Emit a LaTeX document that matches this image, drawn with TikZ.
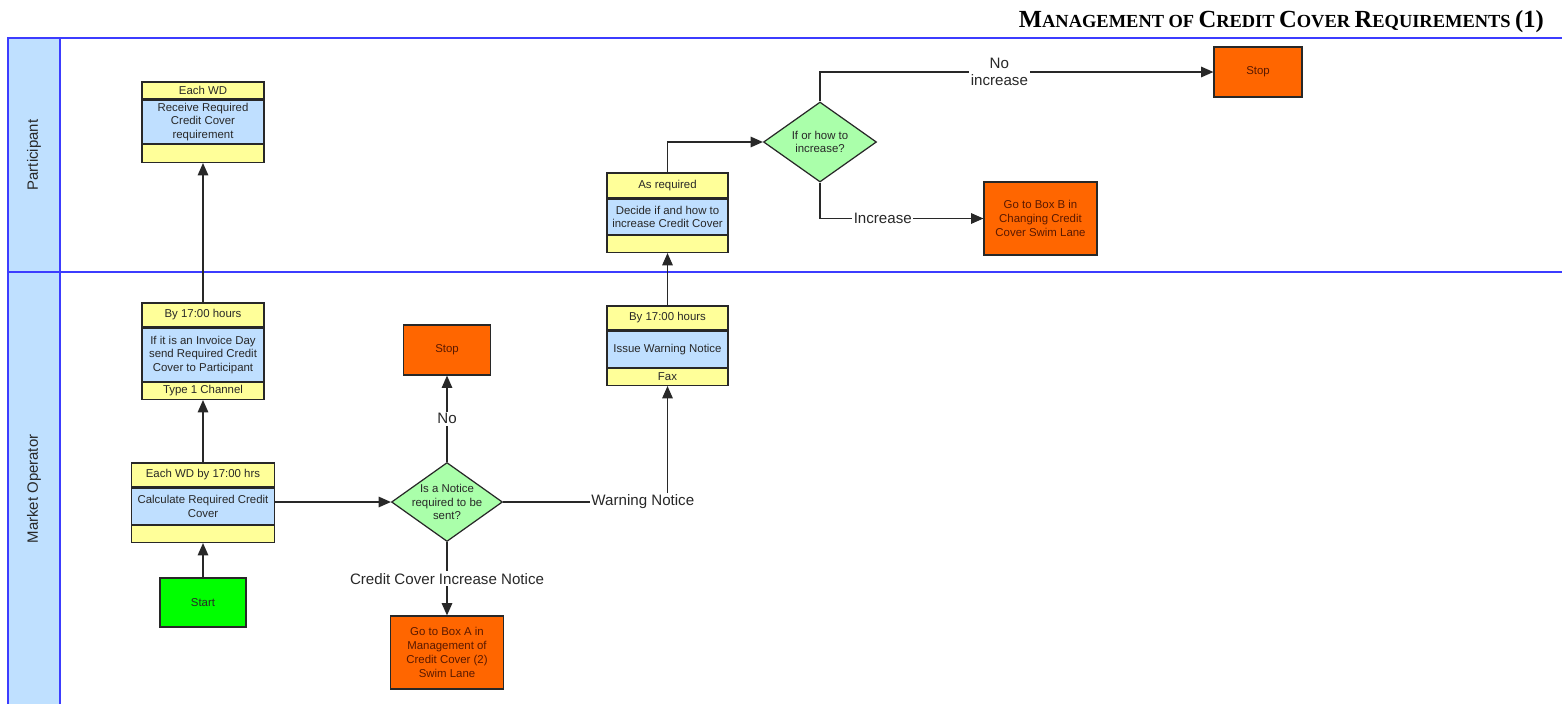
\documentclass[tikz,border=0pt]{standalone}
\usepackage{fontspec}
\setmainfont{Liberation Sans}
\newfontfamily\titlefont{Liberation Serif}
\usetikzlibrary{shapes.geometric, arrows.meta, positioning}
\definecolor{lanefill}{RGB}{191,224,255}
\definecolor{laneline}{RGB}{60,60,255}
\definecolor{headfill}{RGB}{255,255,153}
\definecolor{bodyfill}{RGB}{191,223,255}
\definecolor{termfill}{RGB}{255,102,0}
\definecolor{termtext}{RGB}{90,25,0}
\definecolor{startfill}{RGB}{0,255,0}
\definecolor{choicefill}{RGB}{170,255,170}
\definecolor{inkgray}{RGB}{40,40,40}
\def\boxfont{\fontsize{6.5}{7.7}\selectfont}
\def\labelfont{\fontsize{8.6}{9.8}\selectfont}
\newcommand{\scword}[2]{{\fontsize{14}{16}\selectfont #1}{\fontsize{10.5}{12}\selectfont #2}}
\tikzset{
    head/.style = {draw=inkgray, fill=headfill, line width=0.7pt, inner sep=0pt,
                   minimum width=#1, align=center, font=\boxfont, text=inkgray},
    head/.default = 2.44cm,
    body/.style = {head=#1, fill=bodyfill},
    body/.default = 2.44cm,
    term/.style = {draw=inkgray, fill=termfill, line width=0.7pt, inner sep=0pt,
                   align=center, font=\fontsize{6.5}{8}\selectfont, text=termtext},
    startbox/.style = {term, fill=startfill, text=inkgray},
    decision/.style = {diamond, draw=inkgray, fill=choicefill, line width=0.7pt,
                       inner sep=-0.2cm, align=center, font=\boxfont, text=inkgray},
    link/.style = {draw=inkgray, line width=0.7pt, -{Triangle[length=7pt,width=6pt]}},
    lbl/.style = {fill=white, inner sep=1pt, align=center, font=\labelfont, text=inkgray},
    lanename/.style = {rotate=90, font=\fontsize{8.5}{10}\selectfont, text=inkgray}
}

\begin{document}
\begin{tikzpicture}[x=0.02cm, y=-0.02cm]
    \useasboundingbox (0,0) rectangle (1562,704);
    % Titolo
    \node[anchor=base east, font=\titlefont\bfseries] (title) at (1550,27)
        {\scword{M}{ANAGEMENT} \scword{}{OF} \scword{C}{REDIT} \scword{C}{OVER} \scword{R}{EQUIREMENTS} \scword{(1)}{}};
    % Corsie
    \fill[white] (60,38) rectangle (1562,704);
    \fill[lanefill] (8,38) rectangle (60,704);
    \draw[laneline, line width=0.7pt] (1562,38) -- (8,38) -- (8,704);
    \draw[laneline, line width=0.7pt] (60,38) -- (60,704);
    \draw[laneline, line width=0.7pt] (8,272) -- (1562,272);
    \node[lanename] (participant) at (34,155) {Participant};
    \node[lanename] (operator) at (34,489) {Market Operator};
    % Partecipante: ricezione
    \node[head, minimum height=0.34cm] (rcv-h) at (203,90.5) {Each WD};
    \node[body, minimum height=0.86cm, below=0pt of rcv-h] (rcv) {Receive Required\\Credit Cover\\requirement};
    \node[head, minimum height=0.36cm, below=0pt of rcv] (rcv-f) {};
    % Operatore: invio
    \node[head, minimum height=0.48cm] (inv-h) at (203,315) {By 17:00 hours};
    \node[body, minimum height=1.06cm, below=0pt of inv-h] (inv) {If it is an Invoice Day\\send Required Credit\\Cover to Participant};
    \node[head, minimum height=0.34cm, below=0pt of inv] (inv-f) {Type 1 Channel};
    % Operatore: calcolo
    \node[head=2.86cm, minimum height=0.48cm] (calc-h) at (203,475) {Each WD by 17:00 hrs};
    \node[body=2.86cm, minimum height=0.72cm, below=0pt of calc-h] (calc) {Calculate Required Credit\\Cover};
    \node[head=2.86cm, minimum height=0.34cm, below=0pt of calc] (calc-f) {};
    \node[startbox, minimum width=1.72cm, minimum height=0.98cm] (start) at (203,602.5) {Start};
    % Decisione sull'avviso
    \node[decision, minimum width=2.22cm, minimum height=1.58cm] (d1) at (447,502) {Is a Notice\\required to be\\sent?};
    \node[term, minimum width=1.74cm, minimum height=1.0cm] (stop1) at (447,350) {Stop};
    \node[term, minimum width=2.26cm, minimum height=1.46cm] (boxa) at (447,652.5) {Go to Box A in\\Management of\\Credit Cover (2)\\Swim Lane};
    % Avviso di warning
    \node[head=2.42cm, minimum height=0.48cm] (warn-h) at (667.5,318) {By 17:00 hours};
    \node[body=2.42cm, minimum height=0.72cm, below=0pt of warn-h] (warn) {Issue Warning Notice};
    \node[head=2.42cm, minimum height=0.34cm, below=0pt of warn] (warn-f) {Fax};
    % Partecipante: decisione
    \node[head=2.42cm, minimum height=0.5cm] (dec-h) at (667.5,185.5) {As required};
    \node[body=2.42cm, minimum height=0.7cm, below=0pt of dec-h] (dec) {Decide if and how to\\increase Credit Cover};
    \node[head=2.42cm, minimum height=0.34cm, below=0pt of dec] (dec-f) {};
    \node[decision, minimum width=2.26cm, minimum height=1.6cm] (d2) at (820,142) {If or how to\\increase?};
    \node[term, minimum width=1.76cm, minimum height=1.0cm] (stop2) at (1258,72) {Stop};
    \node[term, minimum width=2.26cm, minimum height=1.46cm] (boxb) at (1040.5,218.5) {Go to Box B in\\Changing Credit\\Cover Swim Lane};
    % Collegamenti
    \draw[link] (start) -- (calc-f);
    \draw[link] (calc-h) -- (inv-f);
    \draw[link] (inv-h) -- (rcv-f);
    \draw[link] (calc.east |- d1.west) -- (d1.west);
    \draw[link] (d1) -- node[lbl]{No} (stop1);
    \draw[link] (d1) -- node[lbl]{Credit Cover Increase Notice} (boxa);
    \draw[link] (d1.east) -| node[lbl, pos=0.425]{Warning Notice} (warn-f.south);
    \draw[link] (warn-h) -- (dec-f);
    \draw[link] (dec-h.north) |- (d2.west);
    \draw[link] (d2.north) |- node[lbl, pos=0.728]{No\\increase} (stop2.west);
    \draw[link] (d2.south) |- node[lbl, pos=0.692]{Increase} (boxb.west);
\end{tikzpicture}
\end{document}
